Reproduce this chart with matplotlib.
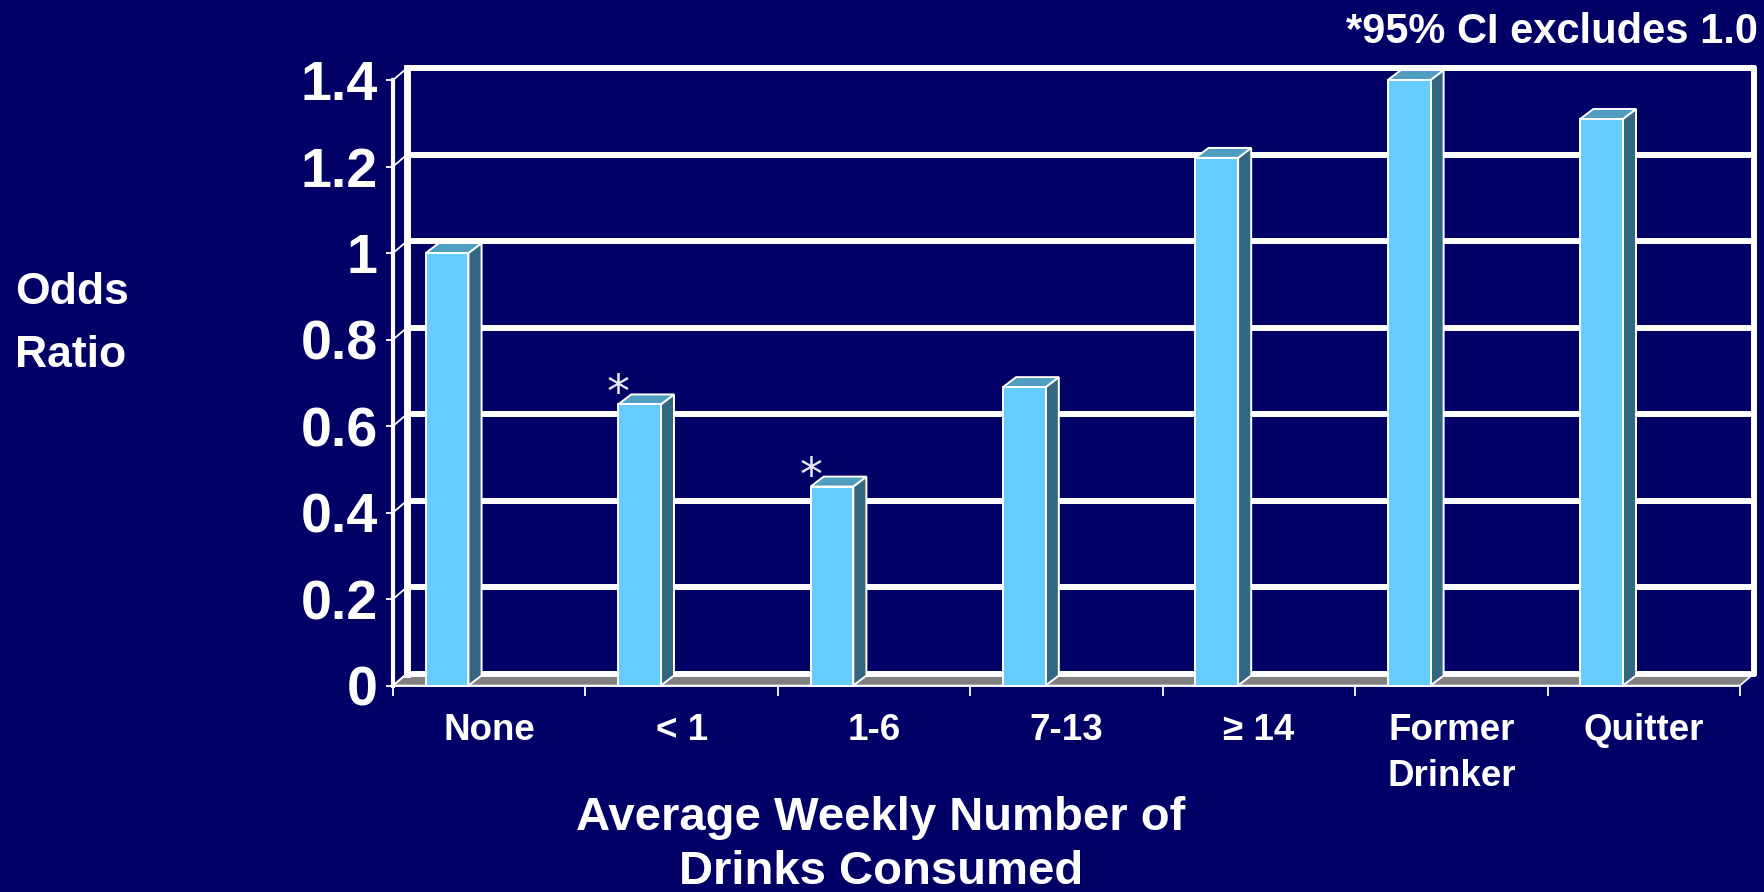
import numpy as np
import matplotlib.pyplot as plt
from matplotlib.patches import Polygon

categories = ["None", "< 1", "1-6", "7-13", "≥ 14", "Former\nDrinker", "Quitter"]
odds_ratios = [1.00, 0.65, 0.46, 0.69, 1.22, 1.40, 1.31]
significant = [False, True, True, False, False, False, False]
y_ticks = [0, 0.2, 0.4, 0.6, 0.8, 1.0, 1.2, 1.4]
y_tick_labels = ["0", "0.2", "0.4", "0.6", "0.8", "1", "1.2", "1.4"]

NAVY = "#000066"
FACE = "#66CCFF"
SIDE = "#336680"
TOP = "#4F9DC0"
FLOOR = "#808080"

plt.rcParams["font.family"] = ["Liberation Sans", "DejaVu Sans"]
plt.rcParams["font.weight"] = "bold"

fig = plt.figure(figsize=(17.65, 8.92), dpi=100, facecolor=NAVY)
ax = fig.add_axes([0.2227, 0.2315, 0.7631, 0.6788])
ax.set_facecolor("none")

n = len(categories)
ymax = y_ticks[-1]
ax.set_xlim(0, n)
ax.set_ylim(0, ymax)

# fake 3d depth: back wall offset and bar depth (data units)
wx, wy = 0.073, 0.0277
bx, by = 0.068, 0.023

# floor
ax.add_patch(Polygon([(0, 0), (n, 0), (n + wx, wy), (wx, wy)], closed=True,
                     facecolor=FLOOR, edgecolor="white", lw=1.2,
                     clip_on=False, zorder=1))

# back wall gridlines + little connectors from the front axis
for t in y_ticks:
    ax.plot([wx, n + wx], [t + wy, t + wy], color="white", lw=4.3,
            solid_capstyle="round", clip_on=False, zorder=2)
    ax.plot([0, wx], [t, t + wy], color="white", lw=1.3,
            clip_on=False, zorder=2)
ax.plot([wx, wx], [wy, ymax + wy], color="white", lw=5,
        clip_on=False, zorder=2)
ax.plot([n + wx, n + wx], [wy, ymax + wy], color="white", lw=4.3,
        solid_capstyle="round", clip_on=False, zorder=2)

# bars
bar_w = 0.222
x_left = np.arange(n) + 0.17
ax.bar(x_left, odds_ratios, width=bar_w, align="edge", color=FACE,
       edgecolor="white", linewidth=1.4, zorder=4, clip_on=False)
for x0, v in zip(x_left, odds_ratios):
    x1 = x0 + bar_w
    ax.add_patch(Polygon([(x1, 0), (x1 + bx, by), (x1 + bx, v + by), (x1, v)],
                         facecolor=SIDE, edgecolor="white", lw=1.4,
                         zorder=3, clip_on=False))
    ax.add_patch(Polygon([(x0, v), (x0 + bx, v + by), (x1 + bx, v + by), (x1, v)],
                         facecolor=TOP, edgecolor="white", lw=1.4,
                         zorder=3, clip_on=False))

# significance markers
for x0, v, sig in zip(x_left, odds_ratios, significant):
    if sig:
        ax.text(x0, v + 0.022, "*", ha="center", va="center", fontsize=33,
                fontweight="normal", family="DejaVu Sans", color="#E8E8F4",
                zorder=5)

# axes styling
for side in ["top", "right"]:
    ax.spines[side].set_visible(False)
ax.spines["left"].set_color("white")
ax.spines["left"].set_linewidth(3)
ax.spines["bottom"].set_color("white")
ax.spines["bottom"].set_linewidth(1.3)
ax.spines["left"].set_zorder(6)

ax.set_yticks(y_ticks, y_tick_labels)
ax.tick_params(axis="y", colors="white", length=5, width=1.3, pad=6,
               labelsize=40)
ax.set_xticks(np.arange(n) + 0.5, categories)
ax.set_xticks(np.arange(n + 1), minor=True)
ax.tick_params(axis="x", which="major", length=0, pad=20, labelsize=26.5,
               colors="white")
ax.tick_params(axis="x", which="minor", length=7, width=1.3, color="white")
for lbl in ax.get_xticklabels():
    lbl.set_linespacing(1.4)

fig.text(15 / 1765, 1 - 324 / 892, "Odds\nRatio", ha="left", va="center",
         fontsize=32, color="white", linespacing=1.7)
fig.text(881 / 1765, 1 - 845 / 892, "Average Weekly Number of\nDrinks Consumed",
         ha="center", va="center", fontsize=34, color="white",
         linespacing=1.3)
fig.text(1758 / 1765, 1 - 43 / 892, "*95% CI excludes 1.0", ha="right",
         va="baseline", fontsize=30, color="white")

fig.savefig("out.png", dpi=100, facecolor=NAVY)
